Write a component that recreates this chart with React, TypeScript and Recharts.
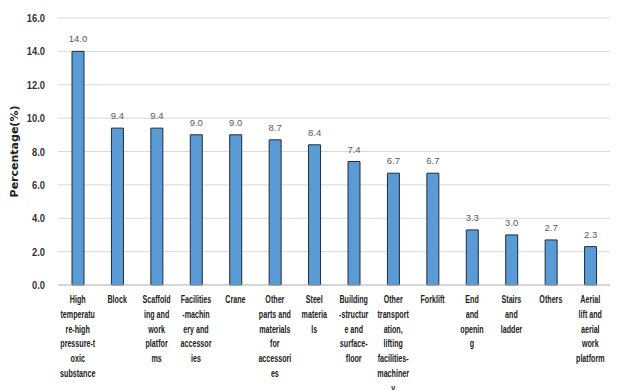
import React from 'react';
import { BarChart, Bar, XAxis, YAxis, CartesianGrid, LabelList } from 'recharts';

document.body.style.margin = '0';

// line breaks as printed under each bar
const categories = [
  'High\ntemperatu\nre-high\npressure-t\noxic\nsubstance',
  'Block',
  'Scaffold\ning and\nwork\nplatfor\nms',
  'Facilities\n-machin\nery and\naccessor\nies',
  'Crane',
  'Other\nparts and\nmaterials\nfor\naccessori\nes',
  'Steel\nmateria\nls',
  'Building\n-structur\ne and\nsurface-\nfloor',
  'Other\ntransport\nation,\nlifting\nfacilities-\nmachiner\ny',
  'Forklift',
  'End\nand\nopenin\ng',
  'Stairs\nand\nladder',
  'Others',
  'Aerial\nlift and\naerial\nwork\nplatform',
];
const percentages = [14.0, 9.4, 9.4, 9.0, 9.0, 8.7, 8.4, 7.4, 6.7, 6.7, 3.3, 3.0, 2.7, 2.3];
const yTicks = [0, 2, 4, 6, 8, 10, 12, 14, 16];

const data = categories.map((name, i) => ({ name, value: percentages[i] }));

const font = '"Liberation Sans", Arial, sans-serif';

// the source font is very narrow, so squeeze the text horizontally
const CategoryTick = ({ x, y, payload }: any) => {
  const lines = String(payload.value).split('\n');
  return (
    <g transform={`translate(${x},${y + 10}) scale(0.68,1)`}>
      <text x={0} y={0} textAnchor="middle" fill="#222" fontSize={10.5} fontWeight={700} fontFamily={font}>
        {lines.map((l, i) => (
          <tspan key={i} x={0} dy={i === 0 ? 0 : 14.8}>{l}</tspan>
        ))}
      </text>
    </g>
  );
};

const YTick = ({ x, y, payload }: any) => (
  <g transform={`translate(${x},${y + 4}) scale(0.85,1)`}>
    <text x={0} y={0} textAnchor="end" fill="#333" fontSize={11} fontWeight={700} fontFamily={font}>
      {Number(payload.value).toFixed(1)}
    </text>
  </g>
);

export default function App() {
  return (
    <div style={{ width: 630, height: 390, background: '#fff' }}>
      <BarChart width={630} height={390} data={data} margin={{ top: 18, right: 20, bottom: 0, left: 0 }}>
        <CartesianGrid vertical={false} stroke="#d9d9d9" />
        <XAxis
          dataKey="name"
          interval={0}
          tickLine={false}
          axisLine={{ stroke: '#bfbfbf' }}
          tick={<CategoryTick />}
          height={105}
        />
        <YAxis
          width={58}
          domain={[0, 16]}
          ticks={yTicks}
          axisLine={false}
          tickLine={false}
          tickSize={0}
          tickMargin={13}
          tick={<YTick />}
          label={{
            value: 'Percentage(%)',
            angle: -90,
            position: 'insideLeft',
            offset: 14,
            style: { textAnchor: 'middle', fill: '#222', fontSize: 11, fontWeight: 700, fontFamily: '"DejaVu Sans", sans-serif' },
          }}
        />
        <Bar dataKey="value" fill="#5b9bd5" stroke="#1f2d3d" strokeWidth={1} barSize={12} isAnimationActive={false}>
          <LabelList
            dataKey="value"
            position="top"
            offset={9}
            formatter={(v: number) => v.toFixed(1)}
            style={{ fill: '#595959', fontSize: 9.5, fontFamily: font }}
          />
        </Bar>
      </BarChart>
    </div>
  );
}
